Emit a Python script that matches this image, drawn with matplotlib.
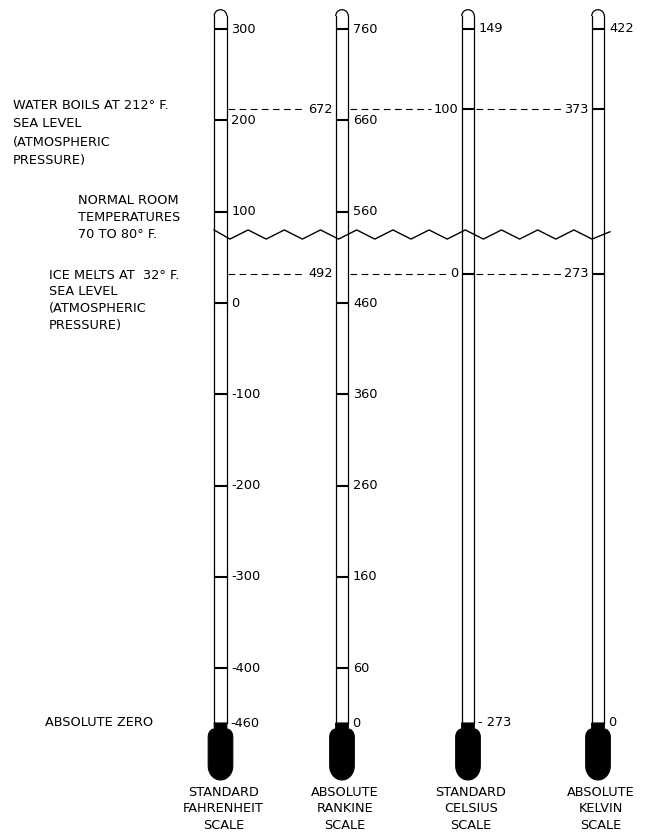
import matplotlib
matplotlib.use("Agg")
import matplotlib.pyplot as plt
import numpy as np
from matplotlib.patches import Arc, Polygon

# ---- data ----
scale_names = ["STANDARD\nFAHRENHEIT\nSCALE", "ABSOLUTE\nRANKINE\nSCALE",
               "STANDARD\nCELSIUS\nSCALE", "ABSOLUTE\nKELVIN\nSCALE"]
fahrenheit_ticks = [300, 200, 100, 0, -100, -200, -300, -400]
rankine_ticks = [760, 660, 560, 460, 360, 260, 160, 60]
celsius_ticks = [149, 100, 0]
kelvin_ticks = [422, 373, 273]
# which ticks get a number on the right side of the tube
fahrenheit_labels = fahrenheit_ticks
rankine_labels = rankine_ticks
celsius_labels = [149]
kelvin_labels = [422]
zero_labels = ["-460", "0", "- 273", "0"]
zero_values = [-460, 0, -273, 0]
boil_values = [212, 672, 100, 373]
ice_values = [32, 492, 0, 273]
room_range = [70, 80]

boil_text = ["WATER BOILS AT 212° F.", "SEA LEVEL", "(ATMOSPHERIC", "PRESSURE)"]
room_text = ["NORMAL ROOM", "TEMPERATURES", "70 TO 80° F."]
ice_text = ["ICE MELTS AT  32° F.", "SEA LEVEL", "(ATMOSPHERIC", "PRESSURE)"]
zero_text = "ABSOLUTE ZERO"

# conversions to the common fahrenheit axis
to_f = [lambda v: v,
        lambda v: v - 460,
        lambda v: v * 9 / 5 + 32,
        lambda v: (v - 273) * 9 / 5 + 32]
ticks = [fahrenheit_ticks, rankine_ticks, celsius_ticks, kelvin_ticks]
labels = [fahrenheit_labels, rankine_labels, celsius_labels, kelvin_labels]


def fy(p):
    # pixel row -> fahrenheit (layout helper)
    return (303.0 - p) / 0.9132


centers = [220.5, 342, 468, 598]
hw = 6.3   # half tube width
bw = 12.3  # half bulb width
FS = 9.3

fig = plt.figure(figsize=(6.48, 8.34), dpi=100)
ax = fig.add_axes([0, 0, 1, 1])
ax.set_xlim(0, 648)
ax.set_ylim(fy(834), fy(0))
ax.axis("off")

for i, c in enumerate(centers):
    conv = to_f[i]
    top = fy(16)
    # tube
    ax.plot([c - hw, c - hw], [top, -460], color="black", lw=0.9)
    ax.plot([c + hw, c + hw], [top, -460], color="black", lw=0.9)
    ax.add_patch(Arc((c, top), 2 * hw, 2 * hw / 0.9132, theta1=0, theta2=180,
                     color="black", lw=0.9))
    # bulb: mercury column, shoulders, round bottom
    pts = [(c - hw, 723), (c + hw, 723)]
    for a in np.linspace(np.pi / 2, 0, 8):
        pts.append((c + hw + (bw - hw) * np.cos(a), 737 - 8 * np.sin(a)))
    for a in np.linspace(0, -np.pi, 19):
        pts.append((c + bw * np.cos(a), 766 - 14 * np.sin(a)))
    for a in np.linspace(np.pi, np.pi / 2, 8):
        pts.append((c - hw + (bw - hw) * np.cos(a), 737 - 8 * np.sin(a)))
    pts = [(x, fy(y)) for x, y in pts]
    ax.add_patch(Polygon(pts, closed=True, facecolor="black", edgecolor="black", lw=0.8))
    # ticks
    for v in ticks[i]:
        yv = conv(v)
        ax.plot([c - hw, c + hw], [yv, yv], color="black", lw=1.5, solid_capstyle="butt")
    for v in labels[i]:
        ax.text(c + 11, conv(v), str(v), fontsize=FS, va="center", ha="left")
    ax.text(c + 10, conv(zero_values[i]), zero_labels[i], fontsize=FS, va="center", ha="left")
    # name under bulb
    for k, line in enumerate(scale_names[i].split("\n")):
        ax.text(c + 3, fy(792 + 16.5 * k), line, fontsize=FS, va="center", ha="center")

# dashed reference rows
fig.canvas.draw()
rend = fig.canvas.get_renderer()
inv = ax.transData.inverted()
for values in [boil_values, ice_values]:
    for i in range(1, 4):
        yv = to_f[i](values[i])
        t = ax.text(centers[i] - hw - 3, yv, str(values[i]), fontsize=FS,
                    va="center", ha="right")
        bb = t.get_window_extent(rend)
        x_left = inv.transform((bb.x0, bb.y0))[0]
        ax.plot([centers[i - 1] + hw + 1.5, x_left - 3], [yv, yv], color="black",
                lw=0.8, linestyle=(0, (6, 4)))

# room temperature zigzag
zx = [214] + list(230 + 18.1 * np.arange(21)) + [610]
zy = [room_range[1]] + [room_range[0] if k % 2 == 0 else room_range[1] for k in range(21)] + [78]
ax.plot(zx, zy, color="black", lw=1.0, zorder=5)

# left annotations
for k, line in enumerate(boil_text):
    ax.text(13, fy(105 + 18.5 * k), line, fontsize=FS, va="center", ha="left")
for k, line in enumerate(room_text):
    ax.text(78, fy(200 + 17 * k), line, fontsize=FS, va="center", ha="left")
for k, line in enumerate(ice_text):
    ax.text(49, fy(275 + 16.8 * k), line, fontsize=FS, va="center", ha="left")
ax.text(45, fy(723), zero_text, fontsize=FS, va="center", ha="left")

fig.savefig("out.png", dpi=100, facecolor="white")
